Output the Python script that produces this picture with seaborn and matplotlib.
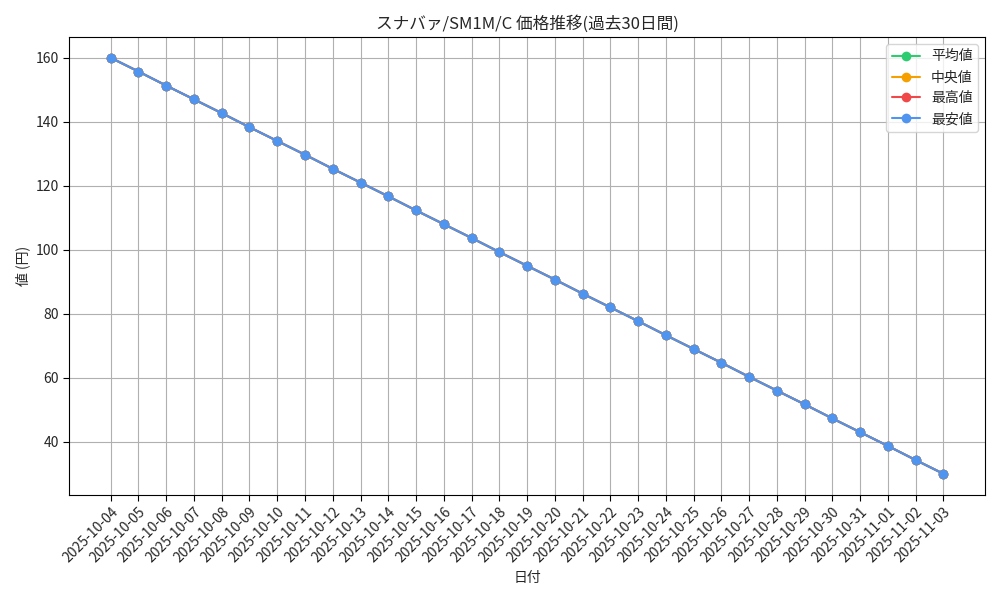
import matplotlib
matplotlib.use("Agg")
import matplotlib.pyplot as plt
import seaborn as sns
import pandas as pd

sns.set_style("white")
plt.rcParams['font.family'] = ['Noto Sans CJK JP', 'DejaVu Sans']

dates = pd.date_range("2025-10-04", "2025-11-03").strftime("%Y-%m-%d").tolist()
values = [160.0,155.7,151.3,147.0,142.7,138.3,134.0,129.7,125.3,121.0,116.7,112.3,108.0,103.7,99.3,95.0,
          90.7,86.3,82.0,77.7,73.3,69.0,64.7,60.3,56.0,51.7,47.3,43.0,38.7,34.3,30.0]
avg = values
median = values
high = values
low = values
series = [("平均値", avg, "#2ecc71"), ("中央値", median, "#f5a000"),
          ("最高値", high, "#f04848"), ("最安値", low, "#4f94ef")]

fig, ax = plt.subplots(figsize=(10, 6), dpi=100)
for name, vals, col in series:
    df = pd.DataFrame({"日付": dates, "値": vals})
    sns.lineplot(data=df, x="日付", y="値", ax=ax, marker="o", markersize=7,
                 markeredgewidth=0, color=col, label=name, linewidth=1.5)
ax.set_title("スナバァ/SM1M/C 価格推移(過去30日間)", fontsize=12)
ax.set_xlabel("日付", fontsize=10)
ax.set_ylabel("値 (円)", fontsize=10)
ax.set_xticks(range(len(dates)))
ax.set_xticklabels(dates, rotation=45, ha="right", rotation_mode="anchor", fontsize=10)
ax.tick_params(axis="y", labelsize=10)
ax.grid(True, color="#b0b0b0", linewidth=0.8)
for s in ax.spines.values():
    s.set_color("black")
ax.tick_params(axis="both", length=4, color="black", left=True, bottom=True)
ax.legend(loc="upper right", fontsize=10)
fig.tight_layout()
fig.savefig("out.png")
